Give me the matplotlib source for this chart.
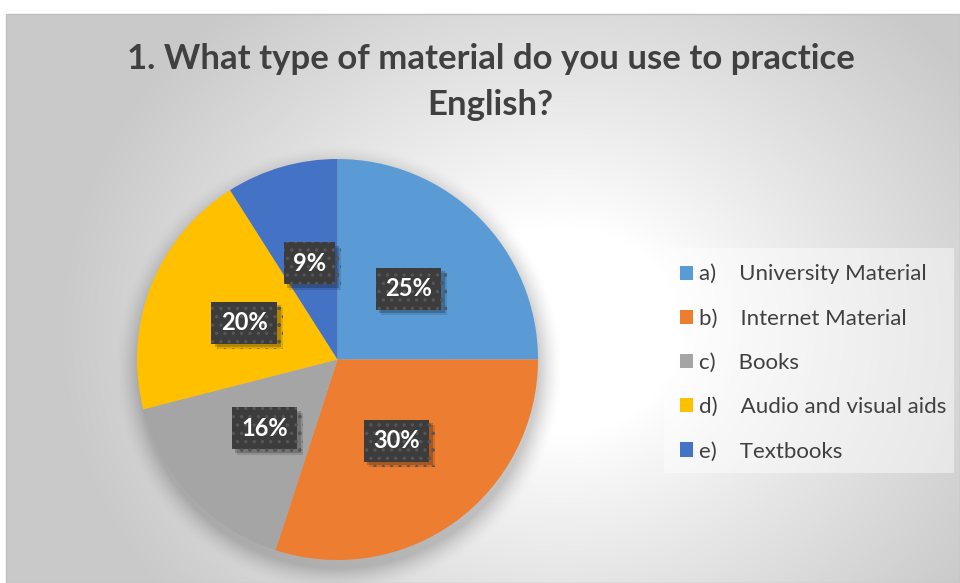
import numpy as np
import matplotlib
matplotlib.use("Agg")
import matplotlib.pyplot as plt
from matplotlib.patches import Rectangle
from matplotlib import patheffects as pe

# Survey answers
categories = ["a)    University Material", "b)    Internet Material", "c)    Books",
              "d)    Audio and visual aids", "e)    Textbooks"]
shares = [25, 30, 16, 20, 9]
colors = ["#5B9BD5", "#ED7D31", "#A5A5A5", "#FFC000", "#4472C4"]
title = "1. What type of material do you use to practice\nEnglish?"

W, H = 960, 583
fig = plt.figure(figsize=(W / 100, H / 100), dpi=100)
fig.patch.set_facecolor("white")

# Background: radial grey-to-white fill with a soft shadow under the pie
bg_ax = fig.add_axes([0, 0, 1, 1])
bg_ax.set_xlim(0, W)
bg_ax.set_ylim(H, 0)
bg_ax.axis("off")
x0, y0, x1, y1 = 6, 14, 960, 583
yy, xx = np.mgrid[y0:y1, x0:x1].astype(float)
cx, cy = 560, 330
d = np.sqrt((xx - cx) ** 2 + ((yy - cy) * 1.15) ** 2)
t = np.clip((d - 120) / 380, 0, 1) ** 0.9
val = 1.0 - 0.21 * t
pcx, pcy, pr = 338, 368, 200
dist = np.sqrt((xx - pcx) ** 2 + (yy - pcy) ** 2)
shadow = np.clip(1 - (dist - pr) / 24.0, 0, 1) ** 1.6 * 0.2
val = val * (1 - shadow)
img = np.dstack([val, val, val])
bg_ax.imshow(img, extent=[x0, x1, y1, y0], interpolation="bilinear", zorder=0)
bg_ax.add_patch(Rectangle((x0, y0), x1 - x0, y1 - y0, fill=False, ec="#bfbfbf", lw=1.0, zorder=1))

# Legend panel
bg_ax.add_patch(Rectangle((664, 248), 290, 225, fc="white", ec="none", alpha=0.45, zorder=2))

fig.text(0.511, 1 - 82 / H, title, ha="center", va="center", fontsize=25,
         fontweight="bold", color="#404040", family="Lato", linespacing=1.55)

# Pie
pie_ax = fig.add_axes([137 / W, (H - 560) / H, 401 / W, 401 / H])
wedges, _, autotexts = pie_ax.pie(
    shares, colors=colors, startangle=90, counterclock=False,
    autopct=lambda p: f"{p:.0f}%", pctdistance=0.5,
    wedgeprops=dict(linewidth=0),
    textprops=dict(color="white", fontsize=17, fontweight="bold", family="Lato"),
)
pie_ax.set_aspect("equal")
pie_ax.set_xlim(-1, 1)
pie_ax.set_ylim(-1, 1)
plt.rcParams["hatch.color"] = "#565656"
plt.rcParams["hatch.linewidth"] = 1.2
for txt in autotexts:
    txt.set_zorder(5)
    txt.set_bbox(dict(boxstyle="square,pad=0.4", fc="#3c3c3c", ec="#565656",
                      lw=0, hatch=".."))
    txt.get_bbox_patch().set_path_effects([
        pe.SimplePatchShadow(offset=(4, -4), shadow_rgbFace="black", alpha=0.12),
        pe.SimplePatchShadow(offset=(2.5, -2.5), shadow_rgbFace="black", alpha=0.2),
        pe.Normal(),
    ])

leg = fig.legend(wedges, categories, loc="upper left", bbox_to_anchor=(671 / W, 1 - 255 / H),
                 frameon=False, fontsize=16, labelspacing=1.09, handlelength=0.6,
                 handleheight=0.6, handletextpad=0.25, borderaxespad=0)
for txt in leg.get_texts():
    txt.set_color("#404040")
    txt.set_family("Lato")

fig.savefig("out.png", dpi=100)
